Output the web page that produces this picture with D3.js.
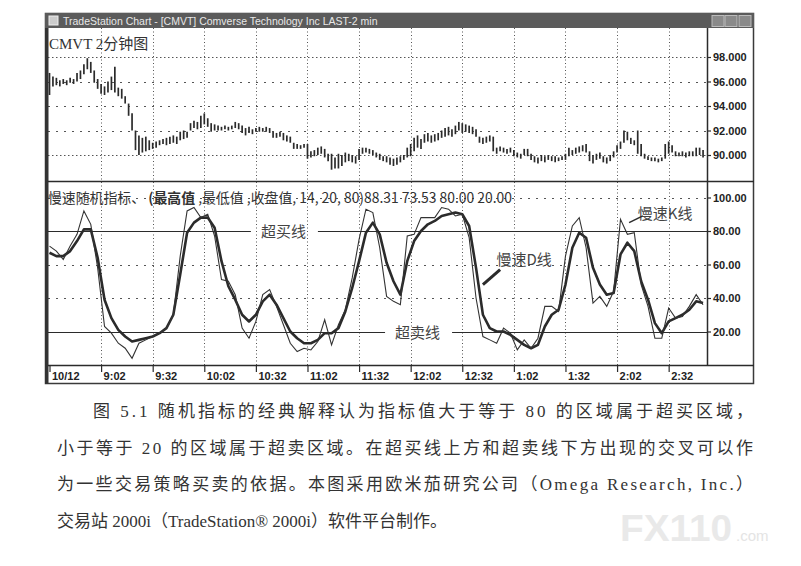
<!DOCTYPE html>
<html>
<head>
<meta charset="utf-8">
<script src="https://cdn.jsdelivr.net/npm/d3@7"></script>
<style>
  body { margin: 0; background: #fff; }
  svg { display: block; }
</style>
</head>
<body>
<svg id="chart" width="801" height="566"></svg>
<script>
// ---------------- data ----------------
// 2-minute bars of CMVT, bar 0 = 8:32
var priceHigh = [
  96.7, 96.4, 96.3, 96.1, 96.2, 96.1, 96.3, 96.2, 96.7, 96.9,
  97.4, 97.9, 97.6, 96.9, 96.2, 95.8, 95.6, 96.0, 96.4, 97.2,
  95.5, 95.4, 94.8, 94.2, 93.4, 92.0, 91.6, 91.4, 91.5, 91.2,
  91.0, 91.1, 91.2, 91.3, 91.4, 91.5, 91.6, 91.5, 91.9, 92.0,
  91.9, 92.6, 92.8, 92.7, 93.2, 93.4, 93.0, 92.6, 92.5, 92.4,
  92.3, 92.4, 92.3, 92.4, 92.7, 92.6, 92.4, 92.2, 92.3, 92.1,
  92.2, 92.3, 92.2, 92.3, 92.2, 91.9, 91.8, 91.9, 91.8, 91.6,
  91.5, 91.0, 90.9, 90.8, 90.9, 90.9, 90.3, 90.4, 90.6, 90.7,
  90.5, 90.1, 90.1, 89.8, 90.1, 90.0, 90.2, 90.1, 90.0, 89.9,
  90.5, 90.6, 90.6, 90.5, 90.4, 90.2, 90.1, 89.9, 89.9, 89.8,
  89.7, 89.8, 89.9, 90.0, 90.6, 90.9, 91.4, 91.6, 91.3, 91.7,
  91.8, 91.6, 91.7, 91.8, 92.0, 92.2, 92.3, 92.1, 92.4, 92.7,
  92.6, 92.5, 92.4, 92.3, 92.1, 91.5, 91.4, 91.5, 91.6, 91.5,
  90.6, 90.7, 90.6, 90.5, 90.6, 90.4, 90.2, 90.1, 90.5, 90.5,
  90.1, 89.9, 89.8, 90.0, 89.9, 90.0, 89.9, 89.9, 89.8, 89.9,
  90.1, 90.6, 90.4, 90.6, 90.7, 90.8, 90.9, 90.3, 90.0, 90.1,
  90.2, 89.9, 89.8, 90.0, 90.3, 90.8, 91.1, 92.0, 91.9, 91.4,
  91.2, 92.0, 90.9, 90.1, 89.9, 89.8, 89.8, 89.7, 89.8, 90.9,
  91.1, 90.8, 90.3, 90.2, 90.3, 90.2, 90.3, 90.3, 90.6, 90.6, 90.4
];
var priceLow = [
  94.9, 95.6, 95.7, 95.6, 95.8, 95.7, 95.9, 95.8, 96.0, 96.2,
  96.6, 97.0, 96.7, 95.9, 95.4, 95.0, 94.9, 95.1, 95.3, 95.1,
  94.8, 94.6, 94.2, 93.2, 92.0, 90.4, 90.0, 90.2, 90.3, 90.4,
  90.5, 90.6, 90.8, 90.9, 90.8, 90.9, 91.0, 90.9, 91.2, 91.3,
  91.4, 92.0, 92.2, 92.1, 92.2, 92.5, 92.3, 91.9, 92.0, 92.0,
  92.0, 92.1, 92.0, 92.1, 92.2, 92.1, 91.8, 91.6, 91.8, 91.7,
  91.9, 91.9, 91.9, 91.9, 91.8, 91.4, 91.4, 91.5, 91.2, 91.1,
  91.0, 90.5, 90.5, 90.5, 90.6, 89.7, 89.8, 89.9, 90.0, 90.1,
  89.8, 89.5, 88.8, 88.9, 88.9, 89.1, 89.4, 89.5, 89.4, 89.3,
  89.6, 90.1, 90.2, 90.1, 90.0, 89.8, 89.6, 89.5, 89.4, 89.2,
  89.1, 89.2, 89.4, 89.6, 89.8, 89.9, 90.3, 90.6, 90.5, 91.0,
  91.1, 91.0, 91.1, 91.2, 91.4, 91.5, 91.6, 91.5, 91.7, 92.0,
  91.8, 91.9, 91.8, 91.7, 91.5, 91.0, 90.9, 91.0, 91.1, 90.3,
  90.1, 90.3, 90.2, 90.1, 90.2, 89.9, 89.8, 89.7, 90.0, 89.9,
  89.6, 89.4, 89.3, 89.5, 89.4, 89.6, 89.5, 89.4, 89.5, 89.6,
  89.6, 89.9, 90.0, 90.1, 90.2, 90.3, 90.2, 89.5, 89.3, 89.6,
  89.7, 89.4, 89.3, 89.5, 89.8, 90.2, 90.5, 91.0, 91.2, 90.9,
  90.8, 90.1, 89.9, 89.7, 89.6, 89.5, 89.5, 89.4, 89.5, 89.7,
  90.1, 90.2, 89.9, 89.9, 89.9, 89.8, 89.9, 89.9, 89.9, 90.0, 89.8
];

// slow stochastic, one value every 2 bars (bar 0, 2, 4 ...)
var stochStep = 2;
var slowK = [
  71, 68, 63, 71, 78, 92, 84, 58, 23, 19,
  13, 10, 4, 13, 15, 17, 19, 22, 30, 65,
  92, 94, 88, 90, 77, 51, 50, 42, 22, 16,
  26, 42, 45, 35, 24, 13, 8, 10, 9, 14,
  27, 12, 24, 33, 52, 75, 93, 91, 70, 41,
  38, 36, 77, 78, 88, 88, 88, 94, 93, 89,
  90, 76, 40, 17, 15, 13, 22, 19, 9, 15,
  10, 16, 35, 35, 32, 65, 83, 88, 70, 37,
  41, 35, 44, 87, 78, 79, 48, 35, 16, 16,
  34, 28, 29, 35, 42, 36
];
var slowD = [
  67, 65, 65, 68, 74, 81, 81, 64, 39, 28,
  21, 17, 14, 15, 16, 17, 19, 22, 30, 54,
  79, 85, 88, 88, 82, 62, 47, 39, 30, 26,
  30, 38, 42, 36, 28, 20, 16, 13, 13, 15,
  19, 19, 22, 32, 46, 62, 79, 85, 78, 61,
  50, 42, 62, 74, 80, 84, 86, 89, 90, 91,
  90, 83, 58, 30, 22, 20, 20, 18, 15, 12,
  10, 12, 23, 30, 33, 48, 70, 79, 76, 58,
  48, 42, 43, 66, 73, 68, 50, 39, 25, 19,
  26, 28, 30, 33, 38, 37
];

var timeTickBars = [0, 15, 30, 45, 60, 75, 90, 105, 120, 135, 150, 165, 180];
var timeLabels = ["10/12", "9:02", "9:32", "10:02", "10:32", "11:02", "11:32",
                  "12:02", "12:32", "1:02", "1:32", "2:02", "2:32"];
var priceTicks = [98, 96, 94, 92, 90];
var stochTicks = [100, 80, 60, 40, 20];
var stochLevels = [80, 20];

var captionLines = [
  "图 5.1   随机指标的经典解释认为指标值大于等于 80 的区域属于超买区域，",
  "小于等于 20 的区域属于超卖区域。在超买线上方和超卖线下方出现的交叉可以作",
  "为一些交易策略买卖的依据。本图采用欧米茄研究公司（Omega Research, Inc.）",
  "交易站 2000i（TradeStation® 2000i）软件平台制作。"
];

// ---------------- layout ----------------
var svg = d3.select("#chart");
var win = {left: 45, right: 754, top: 13, bottom: 384},
    plotLeft = 48, axisX = 707,
    topPanel = {top: 28, bottom: 181},
    lowPanel = {top: 182, bottom: 365};

var ink = "#2b2b2b";
var serif = "'Liberation Serif', 'Noto Sans CJK SC', serif";
var cjk = "'Noto Sans CJK SC', 'Liberation Serif', serif";

var x = d3.scaleLinear().domain([0, 191]).range([49.5, 706.5]);
var yP = d3.scaleLinear().domain([90, 98]).range([155, 57]);
var yS = d3.scaleLinear().domain([0, 100]).range([365, 197.5]);

svg.append("rect").attr("width", 801).attr("height", 566).attr("fill", "#fff");

// clip paths for the two panes
var defs = svg.append("defs");
defs.append("clipPath").attr("id", "clipTop").append("rect")
    .attr("x", plotLeft).attr("y", topPanel.top)
    .attr("width", axisX - plotLeft).attr("height", topPanel.bottom - topPanel.top);
defs.append("clipPath").attr("id", "clipLow").append("rect")
    .attr("x", plotLeft).attr("y", lowPanel.top)
    .attr("width", axisX - plotLeft).attr("height", lowPanel.bottom - lowPanel.top);

// ---------------- grid ----------------
var grid = svg.append("g").attr("stroke", "#555").attr("stroke-width", 1);

grid.selectAll(".vgrid")
  .data(timeTickBars.slice(1))
  .enter().append("line")
    .attr("x1", function(d) { return Math.round(x(d)) + 0.5; })
    .attr("x2", function(d) { return Math.round(x(d)) + 0.5; })
    .attr("y1", topPanel.top)
    .attr("y2", lowPanel.bottom)
    .attr("stroke-dasharray", "1,2.5");

grid.selectAll(".pgrid")
  .data(priceTicks)
  .enter().append("line")
    .attr("x1", plotLeft).attr("x2", axisX)
    .attr("y1", function(d) { return Math.round(yP(d)) + 0.5; })
    .attr("y2", function(d) { return Math.round(yP(d)) + 0.5; })
    .attr("stroke-dasharray", function(d) { return d == 98 || d == 90 ? "1.5,2.5" : "2,6"; });

grid.selectAll(".sgrid")
  .data(stochTicks.filter(function(d) { return stochLevels.indexOf(d) < 0; }))
  .enter().append("line")
    .attr("x1", plotLeft).attr("x2", axisX)
    .attr("y1", function(d) { return Math.round(yS(d)) + 0.5; })
    .attr("y2", function(d) { return Math.round(yS(d)) + 0.5; })
    .attr("stroke-dasharray", "2,6");

// ---------------- price bars ----------------
svg.append("g").attr("clip-path", "url(#clipTop)")
  .selectAll("line")
  .data(priceHigh)
  .enter().append("line")
    .attr("x1", function(d, i) { return x(i); })
    .attr("x2", function(d, i) { return x(i); })
    .attr("y1", function(d) { return yP(d); })
    .attr("y2", function(d, i) { return yP(priceLow[i]); })
    .attr("stroke", ink)
    .attr("stroke-width", 1.7);

svg.append("text")
    .attr("x", plotLeft + 1).attr("y", 49)
    .attr("font-family", serif).attr("font-size", 15).attr("fill", "#333")
    .text("CMVT 2分钟图");

// ---------------- stochastic ----------------
var low = svg.append("g").attr("clip-path", "url(#clipLow)");

var stochLine = d3.line()
    .x(function(d, i) { return x(i * stochStep); })
    .y(function(d) { return yS(d); });

low.append("path").datum(slowD)
    .attr("d", stochLine).attr("fill", "none")
    .attr("stroke", ink).attr("stroke-width", 2.6).attr("stroke-linejoin", "round");
low.append("path").datum(slowK)
    .attr("d", stochLine).attr("fill", "none")
    .attr("stroke", "#333").attr("stroke-width", 1.1);

// overbought / oversold lines with their labels cut into them
var levelLabels = [
  {level: 80, text: "超买线", bar: 68},
  {level: 20, text: "超卖线", bar: 107}
];
levelLabels.forEach(function(l) {
  var t = svg.append("text")
      .attr("x", x(l.bar)).attr("y", yS(l.level) + 6)
      .attr("text-anchor", "middle")
      .attr("font-family", cjk).attr("font-size", 15).attr("fill", "#444")
      .text(l.text);
  var b = t.node().getBBox();
  var yy = Math.round(yS(l.level)) + 0.5;
  svg.append("line").attr("x1", plotLeft).attr("x2", b.x - 10)
      .attr("y1", yy).attr("y2", yy).attr("stroke", ink).attr("stroke-width", 1.2);
  svg.append("line").attr("x1", b.x + b.width + 12).attr("x2", axisX)
      .attr("y1", yy).attr("y2", yy).attr("stroke", ink).attr("stroke-width", 1.2);
});

// line callouts
var callouts = [
  {text: "慢速D线", bar: 138, val: 63, from: [131, 57], to: [126, 48], w: 3},
  {text: "慢速K线", bar: 179, val: 91, from: [172.5, 89], to: [168.5, 85], w: 1.5}
];
callouts.forEach(function(c) {
  svg.append("text")
      .attr("x", x(c.bar)).attr("y", yS(c.val) + 6)
      .attr("text-anchor", "middle")
      .attr("font-family", cjk).attr("font-size", 15).attr("fill", "#444")
      .text(c.text);
  svg.append("line")
      .attr("x1", x(c.from[0])).attr("y1", yS(c.from[1]))
      .attr("x2", x(c.to[0])).attr("y2", yS(c.to[1]))
      .attr("stroke", ink).attr("stroke-width", c.w);
});

var head = svg.append("text")
    .attr("x", plotLeft).attr("y", 203)
    .attr("font-family", cjk).attr("font-size", 14).attr("fill", "#333")
    .attr("textLength", 464).attr("lengthAdjust", "spacingAndGlyphs");
head.append("tspan").text("慢速随机指标、 ");
head.append("tspan").attr("font-weight", "bold").text("(最高值");
head.append("tspan").text(" ,最低值 ,收盘值, 14, 20, 80)88.31 73.53 80.00 20.00");

// ---------------- frame ----------------
var frame = svg.append("g");
frame.append("rect")
    .attr("x", win.left + 0.5).attr("y", win.top + 0.5)
    .attr("width", win.right - win.left - 1).attr("height", win.bottom - win.top - 1)
    .attr("fill", "none").attr("stroke", "#3a3a3a").attr("stroke-width", 1.5);
frame.append("rect")
    .attr("x", win.left).attr("y", win.top)
    .attr("width", win.right - win.left).attr("height", 15)
    .attr("fill", "#5b5b5b");
frame.append("rect")
    .attr("x", win.left).attr("y", topPanel.top)
    .attr("width", 3.5).attr("height", win.bottom - topPanel.top)
    .attr("fill", "#333");
frame.append("text")
    .attr("x", 63).attr("y", 24.5)
    .attr("font-family", "'Liberation Sans', Arial, sans-serif").attr("font-size", 10.5)
    .attr("fill", "#e8e8e8")
    .text("TradeStation Chart - [CMVT] Comverse Technology Inc LAST-2 min");
frame.append("rect").attr("x", 49).attr("y", 16).attr("width", 9).attr("height", 9)
    .attr("fill", "#ccc").attr("stroke", "#eee");
frame.selectAll(".btn")
  .data([712, 725, 739])
  .enter().append("rect")
    .attr("x", function(d) { return d; }).attr("y", 15.5)
    .attr("width", 12).attr("height", 11)
    .attr("fill", "#8a8a8a").attr("stroke", "#bbb");

frame.append("line").attr("x1", plotLeft).attr("x2", win.right)
    .attr("y1", topPanel.bottom + 0.5).attr("y2", topPanel.bottom + 0.5)
    .attr("stroke", ink).attr("stroke-width", 1.5);
frame.append("line").attr("x1", axisX + 0.5).attr("x2", axisX + 0.5)
    .attr("y1", topPanel.top).attr("y2", lowPanel.bottom)
    .attr("stroke", ink).attr("stroke-width", 1.5);

// ---------------- axes ----------------
function styleAxis(g) {
  g.select(".domain").remove();
  g.selectAll(".tick line").attr("stroke", ink).attr("stroke-width", 1.2);
  g.selectAll(".tick text")
      .attr("fill", "#222")
      .attr("font-family", "'Liberation Sans', Arial, sans-serif")
      .attr("font-weight", "bold")
      .attr("font-size", 11);
}

svg.append("g")
    .attr("transform", "translate(" + axisX + ",0)")
    .call(d3.axisRight(yP).tickValues(priceTicks).tickFormat(d3.format(".3f")).tickSize(4).tickPadding(2))
    .call(styleAxis);

svg.append("g")
    .attr("transform", "translate(" + axisX + ",0)")
    .call(d3.axisRight(yS).tickValues(stochTicks).tickFormat(d3.format(".2f")).tickSize(4).tickPadding(2))
    .call(styleAxis);

var xAxis = svg.append("g")
    .attr("transform", "translate(0," + lowPanel.bottom + ")")
    .call(d3.axisBottom(x).tickValues(timeTickBars)
      .tickFormat(function(d, i) { return timeLabels[i]; }).tickSize(7))
    .call(styleAxis);
xAxis.selectAll(".tick text")
    .attr("text-anchor", "start").attr("x", 2).attr("y", 7).attr("dy", "0.71em");

frame.append("line").attr("x1", plotLeft).attr("x2", win.right)
    .attr("y1", lowPanel.bottom + 0.5).attr("y2", lowPanel.bottom + 0.5)
    .attr("stroke", ink).attr("stroke-width", 1.5);

// ---------------- caption ----------------
var capX = [93, 57, 57, 57],
    capW = [660, 696, 696, 0];
svg.selectAll(".caption")
  .data(captionLines)
  .enter().append("text")
    .attr("x", function(d, i) { return capX[i]; })
    .attr("y", function(d, i) { return 417 + i * 36.7; })
    .attr("font-family", serif)
    .attr("font-size", 17)
    .attr("fill", "#333")
    .each(function(d, i) {
      if (capW[i]) d3.select(this).attr("textLength", capW[i]).attr("lengthAdjust", "spacing");
    })
    .text(function(d) { return d; });

// watermark
svg.append("text")
    .attr("x", 620).attr("y", 541)
    .attr("font-family", "'Liberation Sans', Arial, sans-serif").attr("font-weight", "bold")
    .attr("font-size", 36).attr("fill", "#e9e9e9")
    .attr("textLength", 112).attr("lengthAdjust", "spacingAndGlyphs")
    .text("FX110");
svg.append("text")
    .attr("x", 736).attr("y", 541)
    .attr("font-family", "'Liberation Sans', Arial, sans-serif")
    .attr("font-size", 15).attr("fill", "#e4e4e4")
    .text(".com");
</script>
</body>
</html>
